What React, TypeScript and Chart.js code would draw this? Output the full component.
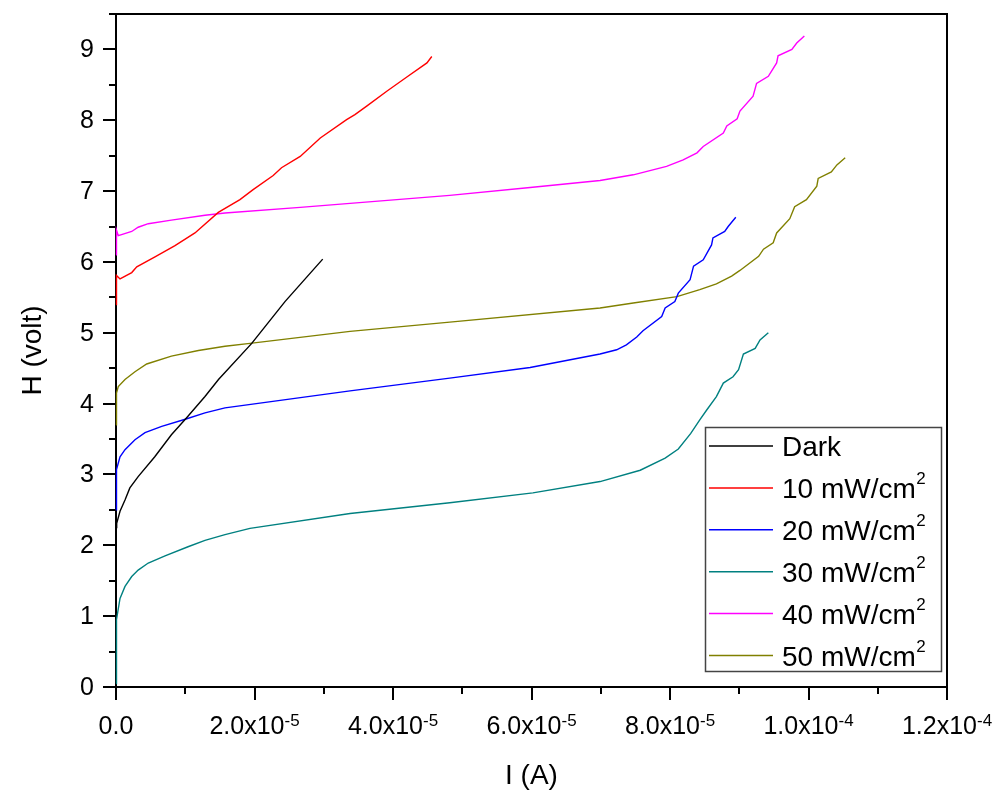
import React, { useEffect, useRef } from 'react';
import { Chart, registerables } from 'chart.js';

Chart.register(...registerables);

const FONT = '"Liberation Sans", Arial, sans-serif';

// ---- Data (I in A, H in volt) ----
const darkI = [0, 0.01e-5, 0.058e-5, 0.13e-5, 0.2e-5, 0.32e-5, 0.56e-5, 0.8e-5, 1.02e-5, 1.285e-5, 1.48e-5, 1.96e-5, 2.44e-5, 2.985e-5];
const darkV = [2.25, 2.31, 2.48, 2.64, 2.81, 2.97, 3.25, 3.56, 3.8, 4.1, 4.34, 4.85, 5.44, 6.04];

const p10I = [0, 0.007e-5, 0.058e-5, 0.227e-5, 0.3e-5, 0.563e-5, 0.852e-5, 1.14e-5, 1.477e-5, 1.79e-5, 1.98e-5, 2.27e-5, 2.39e-5, 2.66e-5, 2.95e-5, 3.33e-5, 3.45e-5, 3.62e-5, 3.91e-5, 4.2e-5, 4.49e-5, 4.56e-5];
const p10V = [5.4, 5.81, 5.76, 5.85, 5.93, 6.07, 6.23, 6.41, 6.7, 6.88, 7.02, 7.22, 7.33, 7.49, 7.75, 8.01, 8.08, 8.2, 8.41, 8.61, 8.81, 8.9];

const p20I = [0, 0.007e-5, 0.058e-5, 0.13e-5, 0.274e-5, 0.419e-5, 0.66e-5, 1.0e-5, 1.285e-5, 1.574e-5, 3.38e-5, 4.82e-5, 5.98e-5, 6.99e-5, 7.23e-5, 7.37e-5, 7.52e-5, 7.61e-5, 7.88e-5, 7.93e-5, 8.07e-5, 8.12e-5, 8.29e-5, 8.34e-5, 8.48e-5, 8.6e-5, 8.62e-5, 8.79e-5, 8.84e-5, 8.95e-5];
const p20V = [2.5, 3.07, 3.25, 3.35, 3.49, 3.59, 3.68, 3.78, 3.87, 3.94, 4.18, 4.36, 4.51, 4.7, 4.76, 4.83, 4.94, 5.03, 5.23, 5.35, 5.44, 5.56, 5.75, 5.94, 6.03, 6.24, 6.34, 6.43, 6.5, 6.63];

const p30I = [0, 0.007e-5, 0.058e-5, 0.13e-5, 0.227e-5, 0.32e-5, 0.466e-5, 0.708e-5, 1.04e-5, 1.285e-5, 1.574e-5, 1.935e-5, 3.38e-5, 4.82e-5, 6.02e-5, 6.99e-5, 7.57e-5, 7.93e-5, 8.12e-5, 8.3e-5, 8.43e-5, 8.53e-5, 8.67e-5, 8.77e-5, 8.91e-5, 8.99e-5, 9.06e-5, 9.23e-5, 9.3e-5, 9.42e-5];
const p30V = [0.05, 0.95, 1.25, 1.42, 1.56, 1.65, 1.75, 1.85, 1.98, 2.07, 2.15, 2.24, 2.45, 2.6, 2.74, 2.9, 3.06, 3.23, 3.36, 3.58, 3.77, 3.91, 4.1, 4.29, 4.38, 4.48, 4.7, 4.78, 4.9, 5.0];

const p40I = [0, 0.007e-5, 0.033e-5, 0.227e-5, 0.32e-5, 0.466e-5, 0.8e-5, 1.285e-5, 1.574e-5, 2.66e-5, 4.82e-5, 5.98e-5, 6.99e-5, 7.47e-5, 7.95e-5, 8.19e-5, 8.39e-5, 8.48e-5, 8.77e-5, 8.82e-5, 8.97e-5, 9.01e-5, 9.2e-5, 9.25e-5, 9.42e-5, 9.54e-5, 9.56e-5, 9.76e-5, 9.83e-5, 9.94e-5];
const p40V = [6.1, 6.45, 6.37, 6.43, 6.49, 6.54, 6.59, 6.66, 6.69, 6.77, 6.94, 7.05, 7.15, 7.23, 7.35, 7.44, 7.54, 7.63, 7.82, 7.92, 8.02, 8.13, 8.34, 8.52, 8.62, 8.81, 8.91, 9.0, 9.09, 9.19];

const p50I = [0, 0.007e-5, 0.033e-5, 0.13e-5, 0.274e-5, 0.443e-5, 0.8e-5, 1.19e-5, 1.574e-5, 1.935e-5, 3.38e-5, 4.82e-5, 6.99e-5, 7.47e-5, 8.1e-5, 8.43e-5, 8.67e-5, 8.89e-5, 9.01e-5, 9.28e-5, 9.35e-5, 9.49e-5, 9.54e-5, 9.73e-5, 9.8e-5, 9.97e-5, 10.12e-5, 10.14e-5, 10.33e-5, 10.41e-5, 10.53e-5];
const p50V = [3.7, 4.15, 4.24, 4.34, 4.45, 4.56, 4.67, 4.75, 4.81, 4.85, 5.02, 5.15, 5.35, 5.42, 5.51, 5.61, 5.69, 5.8, 5.88, 6.08, 6.18, 6.27, 6.41, 6.61, 6.78, 6.88, 7.07, 7.18, 7.27, 7.37, 7.47];

const seriesLabels = ['Dark', '10 mW/cm²', '20 mW/cm²', '30 mW/cm²', '40 mW/cm²', '50 mW/cm²'];
const seriesColors = ['#000000', '#ff0000', '#0000ff', '#008080', '#ff00ff', '#808000'];
const seriesI = [darkI, p10I, p20I, p30I, p40I, p50I];
const seriesV = [darkV, p10V, p20V, p30V, p40V, p50V];

// ---- Axes ----
const xMajorTicks = [0, 2e-5, 4e-5, 6e-5, 8e-5, 1e-4, 1.2e-4];
const xMinorTicks = [1e-5, 3e-5, 5e-5, 7e-5, 9e-5, 1.1e-4];
const xTickLabels = [
  ['0.0', ''],
  ['2.0x10', '-5'],
  ['4.0x10', '-5'],
  ['6.0x10', '-5'],
  ['8.0x10', '-5'],
  ['1.0x10', '-4'],
  ['1.2x10', '-4'],
];
const yMajorTicks = [0, 1, 2, 3, 4, 5, 6, 7, 8, 9];
const yMinorTicks = [0.5, 1.5, 2.5, 3.5, 4.5, 5.5, 6.5, 7.5, 8.5, 9.5];
const xTitle = 'I (A)';
const yTitle = 'H (volt)';

const framePlugin = {
  id: 'originFrame',
  beforeDatasetsDraw(chart: any) {
    const { ctx, chartArea } = chart;
    const { left, right, top, bottom } = chartArea;
    ctx.save();
    ctx.strokeStyle = '#000';
    ctx.lineWidth = 2;
    ctx.strokeRect(left, top, right - left, bottom - top);
    ctx.restore();
  },
};

const axesPlugin = {
  id: 'originAxes',
  afterDraw(chart: any) {
    const { ctx, chartArea } = chart;
    const xs = chart.scales.x;
    const ys = chart.scales.y;
    const { left, right, top, bottom } = chartArea;
    ctx.save();
    ctx.strokeStyle = '#000';
    ctx.fillStyle = '#000';
    ctx.lineWidth = 2;

    // y ticks
    ctx.beginPath();
    yMajorTicks.forEach((v) => {
      const y = Math.round(ys.getPixelForValue(v));
      ctx.moveTo(left - 13, y);
      ctx.lineTo(left - 1, y);
    });
    yMinorTicks.forEach((v) => {
      const y = Math.round(ys.getPixelForValue(v));
      ctx.moveTo(left - 7, y);
      ctx.lineTo(left - 1, y);
    });
    // x ticks
    xMajorTicks.forEach((v) => {
      const x = Math.round(xs.getPixelForValue(v));
      ctx.moveTo(x, bottom + 1);
      ctx.lineTo(x, bottom + 13);
    });
    xMinorTicks.forEach((v) => {
      const x = Math.round(xs.getPixelForValue(v));
      ctx.moveTo(x, bottom + 1);
      ctx.lineTo(x, bottom + 7);
    });
    ctx.stroke();

    // y labels
    ctx.font = `25px ${FONT}`;
    ctx.textAlign = 'right';
    ctx.textBaseline = 'middle';
    yMajorTicks.forEach((v) => {
      ctx.fillText(String(v), left - 22, ys.getPixelForValue(v) + 1);
    });

    // x labels with superscript exponent
    ctx.textAlign = 'left';
    ctx.textBaseline = 'alphabetic';
    xMajorTicks.forEach((v, i) => {
      const [main, sup] = xTickLabels[i];
      ctx.font = `25px ${FONT}`;
      const wm = ctx.measureText(main).width;
      ctx.font = `17px ${FONT}`;
      const ws = sup ? ctx.measureText(sup).width : 0;
      const cx = xs.getPixelForValue(v);
      const x0 = cx - (wm + ws) / 2;
      ctx.font = `25px ${FONT}`;
      ctx.fillText(main, x0, 734);
      if (sup) {
        ctx.font = `17px ${FONT}`;
        ctx.fillText(sup, x0 + wm, 726);
      }
    });

    // axis titles
    ctx.font = `28px ${FONT}`;
    ctx.textAlign = 'center';
    ctx.fillText(xTitle, (left + right) / 2, 784);
    ctx.save();
    ctx.translate(41, (top + bottom) / 2);
    ctx.rotate(-Math.PI / 2);
    ctx.fillText(yTitle, 0, 0);
    ctx.restore();

    // legend
    const lx = 705, ly = 427, lw = 236, lh = 244;
    ctx.fillStyle = '#fff';
    ctx.fillRect(lx, ly, lw, lh);
    ctx.strokeStyle = '#444';
    ctx.lineWidth = 1.5;
    ctx.strokeRect(lx + 0.5, ly + 0.5, lw, lh);
    chart.data.datasets.forEach((ds: any, i: number) => {
      const rowY = 446 + i * 41.9;
      ctx.strokeStyle = ds.borderColor;
      ctx.lineWidth = 1.5;
      ctx.beginPath();
      ctx.moveTo(709, rowY);
      ctx.lineTo(773, rowY);
      ctx.stroke();
      ctx.fillStyle = '#000';
      ctx.textAlign = 'left';
      const label: string = ds.label;
      const hasSup = label.endsWith('²');
      const main = hasSup ? label.slice(0, -1) : label;
      ctx.font = `28px ${FONT}`;
      ctx.fillText(main, 782, rowY + 10);
      if (hasSup) {
        const w = ctx.measureText(main).width;
        ctx.font = `17px ${FONT}`;
        ctx.fillText('2', 782 + w + 0.5, rowY - 3.5);
      }
    });
    ctx.restore();
  },
};

export default function App() {
  const canvasRef = useRef<HTMLCanvasElement | null>(null);

  useEffect(() => {
    const canvas = canvasRef.current;
    if (!canvas) return;
    const datasets = seriesLabels.map((label, i) => ({
      label,
      data: seriesI[i].map((x, j) => ({ x, y: seriesV[i][j] })),
      borderColor: seriesColors[i],
      backgroundColor: seriesColors[i],
      borderWidth: 1.4,
      pointRadius: 0,
      tension: 0,
      fill: false,
      clip: 4,
    }));
    const chart = new Chart(canvas, {
      type: 'line',
      data: { datasets },
      options: {
        responsive: false,
        animation: false,
        devicePixelRatio: 1,
        layout: { padding: { left: 116, right: 48, top: 14, bottom: 106 } },
        scales: {
          x: { type: 'linear', min: 0, max: 1.2e-4, display: false },
          y: { type: 'linear', min: 0, max: 9.5, display: false },
        },
        plugins: {
          legend: { display: false },
          tooltip: { enabled: false },
        },
      },
      plugins: [framePlugin, axesPlugin],
    });
    return () => chart.destroy();
  }, []);

  return (
    <div style={{ position: 'fixed', left: 0, top: 0, width: 995, height: 793, background: '#fff' }}>
      <canvas ref={canvasRef} width={995} height={793} style={{ width: 995, height: 793, display: 'block' }} />
    </div>
  );
}
